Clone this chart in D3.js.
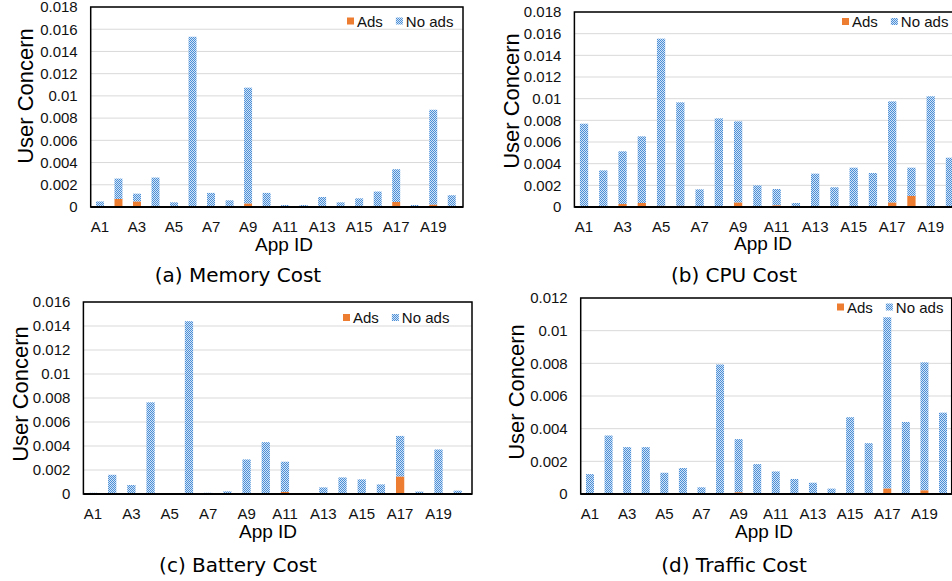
<!DOCTYPE html>
<html>
<head>
<meta charset="utf-8">
<script src="https://cdn.jsdelivr.net/npm/d3@7"></script>
<style>
body { margin: 0; background: #fff; }
svg { display: block; font-family: "Liberation Sans", Arial, sans-serif; }
</style>
</head>
<body>
<svg id="chart" width="952" height="581"></svg>
<script>
// categories and tick labels
const apps = ["A1", "A2", "A3", "A4", "A5", "A6", "A7", "A8", "A9", "A10",
  "A11", "A12", "A13", "A14", "A15", "A16", "A17", "A18", "A19", "A20"];
const xTickLabels = ["A1", "A3", "A5", "A7", "A9", "A11", "A13", "A15", "A17", "A19"];
const ticks018 = [0, 0.002, 0.004, 0.006, 0.008, 0.01, 0.012, 0.014, 0.016, 0.018];
const ticks016 = [0, 0.002, 0.004, 0.006, 0.008, 0.01, 0.012, 0.014, 0.016];
const ticks012 = [0, 0.002, 0.004, 0.006, 0.008, 0.01, 0.012];

// (a) memory
const memoryAds = [0, 0.00072, 0.00048, 0, 0, 0.00003, 0, 0, 0.0003, 0,
  0, 0, 0, 0, 0, 0, 0.00045, 0, 0.0002, 0];
const memoryNoAds = [0.0005, 0.00184, 0.00072, 0.00265, 0.00042, 0.01529, 0.00127, 0.0006, 0.01044, 0.00127,
  0.00018, 0.00018, 0.0009, 0.00042, 0.00078, 0.00139, 0.00295, 0.00018, 0.00855, 0.00106];
// (b) cpu
const cpuAds = [0, 0, 0.00028, 0.00037, 0.0001, 0.0001, 0, 0, 0.0004, 0,
  0.00015, 0, 0, 0, 0, 0, 0.0004, 0.00102, 0, 0];
const cpuNoAds = [0.00769, 0.00338, 0.00486, 0.00615, 0.01544, 0.00956, 0.00163, 0.00818, 0.0075, 0.002,
  0.00151, 0.00037, 0.00308, 0.00182, 0.00363, 0.00314, 0.00935, 0.00261, 0.01022, 0.00455];
// (c) battery
const batteryAds = [0, 0, 0, 0, 0, 0.00005, 0, 0, 0, 0,
  0.00017, 0, 0, 0, 0, 0, 0.00144, 0, 0, 0];
const batteryNoAds = [0.0001, 0.0016, 0.00075, 0.00764, 0, 0.01435, 0.0001, 0.00022, 0.00288, 0.00432,
  0.00252, 0, 0.00055, 0.00138, 0.00122, 0.0008, 0.0034, 0.0002, 0.00371, 0.00028];
// (d) traffic
const trafficAds = [0, 0, 0, 0, 0, 0, 0.00003, 0, 0.0001, 0,
  0, 0, 0, 0, 0, 0, 0.00033, 0, 0.00022, 0];
const trafficNoAds = [0.00122, 0.00358, 0.00287, 0.00287, 0.0013, 0.00159, 0.00038, 0.00793, 0.00326, 0.00183,
  0.00138, 0.00092, 0.00069, 0.00033, 0.0047, 0.00311, 0.01049, 0.00441, 0.00784, 0.00498];

const orange = "#ed7d31";
const svg = d3.select("#chart");

const pat = svg.append("defs").append("pattern")
  .attr("id", "checker")
  .attr("width", 2).attr("height", 2)
  .attr("patternUnits", "userSpaceOnUse");
pat.append("rect").attr("width", 2).attr("height", 2).attr("fill", "#d3e4f6");
pat.append("rect").attr("width", 1).attr("height", 1).attr("fill", "#4a8ed8");
pat.append("rect").attr("x", 1).attr("y", 1).attr("width", 1).attr("height", 1).attr("fill", "#4a8ed8");

const panels = [
  { caption: "(a) Memory Cost", ads: memoryAds, noAds: memoryNoAds, ticks: ticks018,
    left: 90.7, right: 461, frameRight: 463, top: 7, bottom: 207,
    titleX: 25, titleY: 96, labelX: 284, labelY: 244, legX: 347, legY: 21, capX: 238, capY: 282 },
  { caption: "(b) CPU Cost", ads: cpuAds, noAds: cpuNoAds, ticks: ticks018,
    left: 574.4, right: 959.6, frameRight: 959.6, top: 12, bottom: 207,
    titleX: 511, titleY: 101, labelX: 763, labelY: 243.5, legX: 842, legY: 21.5, capX: 734, capY: 282 },
  { caption: "(c) Battery Cost", ads: batteryAds, noAds: batteryNoAds, ticks: ticks016,
    left: 83.4, right: 467.3, frameRight: 472, top: 302, bottom: 494,
    titleX: 20, titleY: 394, labelX: 268, labelY: 531, legX: 343, legY: 317.5, capX: 238, capY: 572 },
  { caption: "(d) Traffic Cost", ads: trafficAds, noAds: trafficNoAds, ticks: ticks012,
    left: 580.7, right: 952.3, frameRight: 951.7, top: 298, bottom: 494,
    titleX: 516.5, titleY: 392, labelX: 764, labelY: 531, legX: 837, legY: 307, capX: 734, capY: 572 }
];

function drawPanel(p) {
  const g = svg.append("g");
  const x = d3.scaleBand().domain(apps).range([p.left, p.right])
    .paddingInner(0.57).paddingOuter(0.285);
  const y = d3.scaleLinear().domain([0, d3.max(p.ticks)]).range([p.bottom, p.top]);

  // gridlines
  g.append("g").selectAll("line").data(p.ticks.filter(t => t > 0)).join("line")
    .attr("x1", p.left).attr("x2", p.frameRight)
    .attr("y1", d => y(d)).attr("y2", d => y(d))
    .attr("stroke", "#d9d9d9").attr("stroke-width", 1);

  // stacked bars
  g.append("g").selectAll("rect").data(apps).join("rect")
    .attr("x", d => x(d)).attr("width", x.bandwidth())
    .attr("y", (d, i) => y(p.ads[i] + p.noAds[i]))
    .attr("height", (d, i) => y(p.ads[i]) - y(p.ads[i] + p.noAds[i]))
    .attr("fill", "url(#checker)");
  g.append("g").selectAll("rect").data(apps).join("rect")
    .attr("x", d => x(d)).attr("width", x.bandwidth())
    .attr("y", (d, i) => y(p.ads[i]))
    .attr("height", (d, i) => y(0) - y(p.ads[i]))
    .attr("fill", orange);

  // frame + zero line
  g.append("rect")
    .attr("x", p.left).attr("y", p.top)
    .attr("width", p.frameRight - p.left).attr("height", p.bottom - p.top)
    .attr("fill", "none").attr("stroke", "#000").attr("stroke-width", 1.5);
  g.append("line")
    .attr("x1", p.left).attr("x2", p.frameRight)
    .attr("y1", y(0)).attr("y2", y(0))
    .attr("stroke", "#000").attr("stroke-width", 2);

  // axes
  g.append("g")
    .attr("transform", `translate(0,${p.bottom})`)
    .call(d3.axisBottom(x).tickValues(xTickLabels).tickSize(0).tickPadding(14))
    .call(a => a.select(".domain").remove())
    .attr("font-size", 15).attr("font-family", null)
    .selectAll("text").attr("fill", "#111");
  g.append("g")
    .attr("transform", `translate(${p.left},0)`)
    .call(d3.axisLeft(y).tickValues(p.ticks).tickSize(0).tickPadding(13)
      .tickFormat(d => String(+d.toFixed(3))))
    .call(a => a.select(".domain").remove())
    .attr("font-size", 15).attr("font-family", null)
    .selectAll("text").attr("fill", "#111");

  // axis titles
  g.append("text")
    .attr("transform", `translate(${p.titleX},${p.titleY}) rotate(-90)`)
    .attr("text-anchor", "middle").attr("dominant-baseline", "central")
    .attr("font-size", 22).attr("fill", "#000")
    .text("User Concern");
  g.append("text")
    .attr("x", p.labelX).attr("y", p.labelY)
    .attr("text-anchor", "middle").attr("dominant-baseline", "central")
    .attr("font-size", 19).attr("fill", "#000")
    .text("App ID");

  // legend
  const leg = g.append("g").attr("font-size", 15);
  leg.append("rect").attr("x", p.legX).attr("y", p.legY - 3.5)
    .attr("width", 7).attr("height", 7).attr("fill", orange);
  const t1 = leg.append("text").attr("x", p.legX + 10).attr("y", p.legY)
    .attr("dominant-baseline", "central").attr("fill", "#111").text("Ads");
  const x2 = p.legX + 10 + t1.node().getComputedTextLength() + 13;
  leg.append("rect").attr("x", x2).attr("y", p.legY - 3.5)
    .attr("width", 7).attr("height", 7).attr("fill", "url(#checker)");
  leg.append("text").attr("x", x2 + 10).attr("y", p.legY)
    .attr("dominant-baseline", "central").attr("fill", "#111").text("No ads");

  // caption
  g.append("text")
    .attr("x", p.capX).attr("y", p.capY)
    .attr("text-anchor", "middle")
    .attr("font-family", "'DejaVu Sans', sans-serif")
    .attr("font-size", 20).attr("fill", "#000")
    .text(p.caption);
}

panels.forEach(drawPanel);
</script>
</body>
</html>
